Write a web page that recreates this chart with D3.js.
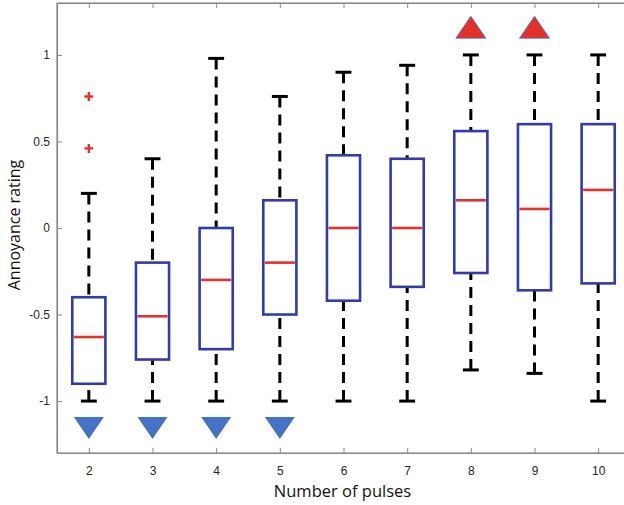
<!DOCTYPE html>
<html>
<head>
<meta charset="utf-8">
<script src="https://cdn.jsdelivr.net/npm/d3@7"></script>
<style>
  body { margin: 0; background: #fff; }
  svg { display: block; }
</style>
</head>
<body>
<svg id="chart" width="624" height="505"></svg>
<script>
// DATA
const pulses = [2, 3, 4, 5, 6, 7, 8, 9, 10]
const whiskerLow = [-1, -1, -1, -1, -1, -1, -0.82, -0.84, -1]
const q1 = [-0.9, -0.76, -0.7, -0.5, -0.42, -0.34, -0.26, -0.36, -0.32]
const medians = [-0.63, -0.51, -0.3, -0.2, 0, 0, 0.16, 0.11, 0.22]
const q3 = [-0.4, -0.2, 0, 0.16, 0.42, 0.4, 0.56, 0.6, 0.6]
const whiskerHigh = [0.2, 0.4, 0.98, 0.76, 0.9, 0.94, 1, 1, 1]
const outliers = [{ x: 2, y: 0.76 }, { x: 2, y: 0.46 }]
const downMarks = [2, 3, 4, 5]
const upMarks = [8, 9]
const yTicks = [-1, -0.5, 0, 0.5, 1]

function DOMLoad () {
	const svg = d3.select('svg#chart')
	const left = 57, right = 630, top = 3, bottom = 453

	const x = d3.scaleLinear().domain([1.5, 10.5]).range([left, right])
	const y = d3.scaleLinear().domain([-1.3, 1.3]).range([bottom, top])

	const axisColor = '#8a8a8a'
	const boxColor = '#2f3ea6'
	const medColor = '#e8312b'

	// FRAME
	svg.append('rect')
		.attr('x', left).attr('y', top)
		.attr('width', right - left).attr('height', bottom - top)
		.attr('fill', 'none').attr('stroke', axisColor).attr('stroke-width', 1.2)

	// AXES (ticks point inward)
	const xAxis = svg.append('g').attr('transform', `translate(0,${bottom})`)
		.call(d3.axisBottom(x).tickValues(pulses).tickSizeInner(-5).tickSizeOuter(0).tickPadding(13))
	const xAxisTop = svg.append('g').attr('transform', `translate(0,${top})`)
		.call(d3.axisTop(x).tickValues(pulses).tickSizeInner(-5).tickSizeOuter(0).tickFormat(''))
	const yAxis = svg.append('g').attr('transform', `translate(${left},0)`)
		.call(d3.axisLeft(y).tickValues(yTicks).tickSizeInner(-5).tickSizeOuter(0).tickPadding(7)
			.tickFormat(d => String(d)))
	;[xAxis, xAxisTop, yAxis].forEach(g => {
		g.select('.domain').attr('stroke', axisColor).attr('stroke-width', 1.2)
		g.selectAll('.tick line').attr('stroke', axisColor).attr('stroke-width', 1)
		g.selectAll('.tick text')
			.attr('fill', '#262626')
			.attr('font-family', 'Liberation Sans, Arial, sans-serif')
			.attr('font-size', 12)
	})

	// BOXES
	const rows = pulses.map((p, i) => ({ p, lo: whiskerLow[i], q1: q1[i], med: medians[i], q3: q3[i], hi: whiskerHigh[i] }))
	const boxW = x(2.26) - x(2)
	const capW = x(2.125) - x(2)
	const g = svg.append('g')

	const box = g.selectAll('g.box').data(rows).join('g').attr('class', 'box')

	// whiskers
	box.append('line')
		.attr('x1', d => x(d.p)).attr('x2', d => x(d.p))
		.attr('y1', d => y(d.hi)).attr('y2', d => y(d.q3))
		.attr('stroke', '#000').attr('stroke-width', 3).attr('stroke-dasharray', '11,7')
	box.append('line')
		.attr('x1', d => x(d.p)).attr('x2', d => x(d.p))
		.attr('y1', d => y(d.lo)).attr('y2', d => y(d.q1))
		.attr('stroke', '#000').attr('stroke-width', 3).attr('stroke-dasharray', '11,7')
	// caps
	box.selectAll('line.cap').data(d => [d.hi, d.lo].map(v => ({ p: d.p, v }))).join('line')
		.attr('class', 'cap')
		.attr('x1', d => x(d.p) - capW).attr('x2', d => x(d.p) + capW)
		.attr('y1', d => y(d.v)).attr('y2', d => y(d.v))
		.attr('stroke', '#000').attr('stroke-width', 3)

	// box
	box.append('rect')
		.attr('x', d => x(d.p) - boxW).attr('width', 2 * boxW)
		.attr('y', d => y(d.q3)).attr('height', d => y(d.q1) - y(d.q3))
		.attr('fill', '#fff').attr('stroke', boxColor).attr('stroke-width', 2.6)
	// median
	box.append('line')
		.attr('x1', d => x(d.p) - boxW + 1.5).attr('x2', d => x(d.p) + boxW - 1.5)
		.attr('y1', d => y(d.med)).attr('y2', d => y(d.med))
		.attr('stroke', medColor).attr('stroke-width', 2.6)

	// OUTLIERS
	g.selectAll('path.out').data(outliers).join('path')
		.attr('class', 'out')
		.attr('transform', d => `translate(${x(d.x)},${y(d.y)})`)
		.attr('d', 'M-4.5,0H4.5M0,-4.5V4.5')
		.attr('stroke', medColor).attr('stroke-width', 2.4)

	// SIGNIFICANCE TRIANGLES
	const tw = 15, th = 22
	g.selectAll('path.down').data(downMarks).join('path')
		.attr('class', 'down')
		.attr('transform', d => `translate(${x(d)},${y(-1.155)})`)
		.attr('d', `M${-tw},${-th / 2}L${tw},${-th / 2}L0,${th / 2}Z`)
		.attr('fill', '#4472c4')
	g.selectAll('path.up').data(upMarks).join('path')
		.attr('class', 'up')
		.attr('transform', d => `translate(${x(d)},${y(1.16)})`)
		.attr('d', `M${-tw},${th / 2}L${tw},${th / 2}L0,${-th / 2}Z`)
		.attr('fill', '#e3302a').attr('stroke', '#4472c4').attr('stroke-width', 0.8)

	// LABELS
	svg.append('text')
		.attr('x', x(6) - 1).attr('y', 497)
		.attr('text-anchor', 'middle')
		.attr('font-family', 'Open Sans, sans-serif').attr('font-size', 16.5)
		.attr('fill', '#111')
		.text('Number of pulses')
	svg.append('text')
		.attr('transform', `translate(20,${y(0) - 3}) rotate(-90)`)
		.attr('text-anchor', 'middle')
		.attr('font-family', 'Open Sans, sans-serif').attr('font-size', 16)
		.attr('fill', '#111')
		.text('Annoyance rating')
}

if (document.readyState === 'loading') {
	document.addEventListener('DOMContentLoaded', DOMLoad)
} else {
	DOMLoad()
}
</script>
</body>
</html>
